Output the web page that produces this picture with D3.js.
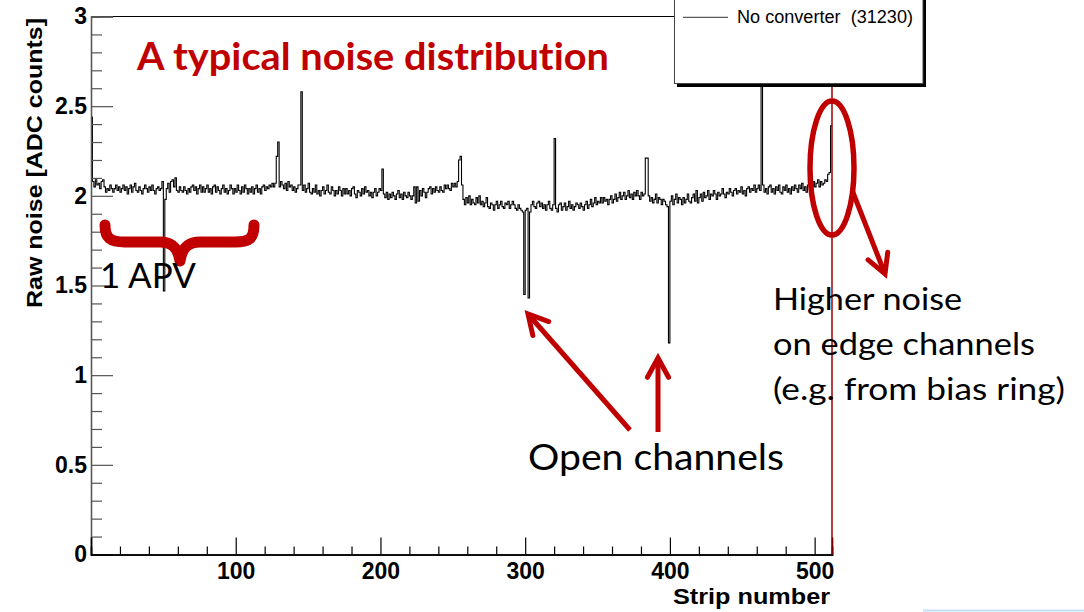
<!DOCTYPE html>
<html><head><meta charset="utf-8">
<script src="https://cdn.jsdelivr.net/npm/d3@7"></script>
<style>body{margin:0;background:#fff}svg{display:block}text{font-variant-ligatures:none;font-feature-settings:"liga" 0}</style>
</head><body>
<svg id="c" width="1084" height="612"></svg>
<script>
// ---- data ----
const noise = [
2.44,2.08,2.05,2.09,2.06,2.07,2.04,2.08,2.09,2.05,2.02,2.04,2.03,2.06,2.04,2.02,
2.04,2.06,2.03,2.05,2.02,2.04,2.06,2.03,2.05,2.01,2.04,2.06,2.02,2.05,2.07,2.03,
2.02,2.05,2.03,2.01,2.04,2.06,2.04,2.02,2.05,2.03,2.06,2.03,2.01,2.04,2.05,2.03,
2.04,2.08,1.47,1.98,2.04,2.07,2.02,2.08,2.09,2.05,2.10,2.03,2.02,2.05,2.03,2.02,
2.05,2.03,2.01,2.04,2.02,2.05,2.06,2.03,2.05,2.01,2.04,2.06,2.02,2.05,2.02,2.04,
2.06,2.02,2.04,2.01,2.05,2.06,2.02,2.05,2.03,2.01,2.04,2.06,2.02,2.04,2.01,2.03,
2.06,2.04,2.01,2.04,2.02,2.06,2.03,2.01,2.05,2.02,2.06,2.04,2.01,2.04,2.02,2.05,
2.01,2.04,2.06,2.02,2.04,2.01,2.05,2.06,2.03,2.05,2.04,2.06,2.05,2.07,2.05,2.07,
2.22,2.30,2.05,2.08,2.06,2.04,2.07,2.03,2.08,2.05,2.06,2.03,2.05,2.02,2.04,2.06,
2.06,2.58,2.03,2.06,2.02,2.04,2.07,2.02,2.01,2.04,2.02,2.06,2.01,2.03,2.00,2.03,
2.05,2.01,2.03,2.06,2.02,2.01,2.05,2.03,2.00,2.03,2.01,2.05,2.03,2.00,2.04,2.01,
2.04,2.01,2.03,2.00,2.04,2.05,2.01,1.99,2.03,2.02,2.00,2.04,2.01,2.05,2.02,2.03,
2.00,2.02,1.99,2.02,2.04,2.00,2.02,2.04,2.03,2.15,2.01,1.99,2.02,1.98,2.01,1.99,
2.02,2.00,1.98,2.01,2.03,1.99,2.01,1.98,2.02,2.00,1.99,2.02,2.00,1.98,2.00,2.05,
1.96,2.05,1.97,2.03,2.00,2.04,2.02,1.99,2.02,2.04,2.05,2.01,2.04,2.02,2.05,2.03,
2.02,2.05,2.03,2.02,2.06,2.04,2.06,2.04,2.03,2.07,2.05,2.07,2.05,2.08,2.20,2.22,
2.06,1.98,1.95,1.99,1.96,2.00,1.95,1.98,1.96,1.95,1.99,1.96,2.00,1.95,1.97,1.94,
1.96,1.99,1.94,1.93,1.96,1.95,1.92,1.95,1.97,1.93,1.95,1.97,1.94,1.93,1.96,1.95,
1.97,1.93,1.95,1.97,1.95,1.93,1.92,1.95,1.93,1.92,1.91,1.45,1.92,1.93,1.43,1.91,
1.95,1.97,1.94,1.93,1.96,1.97,1.94,1.96,1.93,1.95,1.92,1.95,1.97,1.93,1.92,1.95,
2.32,1.93,1.91,1.95,1.96,1.92,1.94,1.96,1.92,1.94,1.97,1.93,1.95,1.92,1.94,1.96,
1.95,1.93,1.96,1.94,1.92,1.95,1.97,1.93,1.95,1.98,1.94,1.96,1.99,1.95,1.97,1.96,
1.99,1.96,1.99,1.97,1.98,1.95,1.98,2.00,1.96,1.98,2.01,1.97,1.99,2.02,1.98,2.00,
2.02,1.98,2.00,2.03,1.99,2.01,1.98,2.02,2.00,2.03,2.00,1.98,2.02,2.00,2.01,2.21,
2.21,2.00,1.97,1.99,1.96,1.98,2.01,1.96,1.99,1.98,1.95,1.98,1.97,1.95,1.94,1.18,
1.97,2.00,1.95,1.98,2.01,1.96,1.99,1.98,1.95,1.99,1.96,1.98,2.01,1.97,1.96,1.99,
2.01,1.97,2.03,1.96,1.99,2.01,1.97,2.02,1.99,2.00,2.03,1.98,2.01,2.00,2.03,2.01,
1.98,2.02,2.00,2.01,2.04,2.01,1.99,2.02,2.01,2.04,2.02,2.00,2.03,2.04,2.01,2.03,
2.02,2.05,2.01,2.03,2.00,2.04,2.05,2.02,2.04,2.03,2.06,2.02,2.04,2.06,2.03,3.30,
2.06,2.02,2.04,2.01,2.05,2.06,2.02,2.04,2.01,2.05,2.03,2.06,2.02,2.01,2.05,2.03,
2.06,2.02,2.04,2.01,2.05,2.03,2.06,2.04,2.02,2.06,2.04,2.07,2.03,2.05,2.02,2.06,
2.07,2.04,2.05,2.08,2.05,2.07,2.09,2.05,2.08,2.06,2.07,2.09,2.08,2.12,2.13,2.39
];
const xDomain = [0, 512];
const yDomain = [0, 3];
const xMajorTicks = [100, 200, 300, 400, 500];
const xMinorStep = 20;
const yMajorTicks = [0, 0.5, 1, 1.5, 2, 2.5, 3];
const yTickLabels = ["0", "0.5", "1", "1.5", "2", "2.5", "3"];
const yMinorStep = 0.1;
const xTitle = "Strip number";
const yTitle = "Raw noise [ADC counts]";
const legendLabel = "No converter  (31230)";
const chartTitle = "A typical noise distribution";
const apvLabel = "1 APV";
const openLabel = "Open channels";
const edgeLabel = ["Higher noise", "on edge channels", "(e.g. from bias ring)"];

// ---- drawing ----
const RED = "#c00000";
const svg = d3.select("#c");
const x = d3.scaleLinear().domain(xDomain).range([91, 832]);
const y = d3.scaleLinear().domain(yDomain).range([554.5, 16.5]);

svg.append("defs").append("clipPath").attr("id", "frame")
  .append("rect").attr("x", 91).attr("y", 16.5).attr("width", 741).attr("height", 538);

// frame top
svg.append("line").attr("x1", 91).attr("x2", 832).attr("y1", 16.5).attr("y2", 16.5)
  .attr("stroke", "#000").attr("stroke-width", 1.2);

// histogram step path
let pts = [];
noise.forEach((v, i) => {
  pts.push([x(i), y(v)]);
  pts.push([x(i + 1), y(v)]);
});
svg.append("path")
  .attr("d", d3.line()(pts))
  .attr("clip-path", "url(#frame)")
  .attr("fill", "none").attr("stroke", "#000").attr("stroke-width", 1.1);

// axes
const yMinor = d3.range(0, 3.0001, yMinorStep).filter(v => !yMajorTicks.some(m => Math.abs(m - v) < 1e-6));
const xMinor = d3.range(xMinorStep, 512, xMinorStep).filter(v => !xMajorTicks.includes(v));
const axFont = "'Liberation Sans', Arial, sans-serif";

const gyMinor = svg.append("g").attr("transform", "translate(91,0)")
  .call(d3.axisLeft(y).tickValues(yMinor).tickSize(-11).tickFormat(""));
const gy = svg.append("g").attr("transform", "translate(91,0)")
  .call(d3.axisLeft(y).tickValues(yMajorTicks).tickSize(-22).tickPadding(4)
    .tickFormat((d, i) => yTickLabels[i]));
[gyMinor, gy].forEach(g => {
  g.select(".domain").attr("stroke", "#555").attr("stroke-width", 1.3);
  g.selectAll(".tick line").attr("stroke", "#555").attr("stroke-width", 1.2);
});
gy.selectAll("text").attr("font-family", axFont)
  .attr("font-weight", "bold").attr("font-size", 23).attr("fill", "#000");

const gxMinor = svg.append("g").attr("transform", "translate(0,554.5)")
  .call(d3.axisBottom(x).tickValues(xMinor).tickSize(-8).tickFormat(""));
const gx = svg.append("g").attr("transform", "translate(0,554.5)")
  .call(d3.axisBottom(x).tickValues(xMajorTicks).tickSize(-17).tickPadding(8));
[gxMinor, gx].forEach(g => {
  g.select(".domain").attr("stroke", "#000").attr("stroke-width", 1.6);
  g.selectAll(".tick line").attr("stroke", "#000").attr("stroke-width", 1.2);
});
gx.selectAll("text").attr("font-family", axFont)
  .attr("font-weight", "bold").attr("font-size", 23).attr("fill", "#000");

// axis titles
svg.append("text").text(xTitle)
  .attr("x", 830).attr("y", 604).attr("text-anchor", "end")
  .attr("font-family", axFont).attr("font-weight", "bold")
  .attr("font-size", 22).attr("textLength", 157).attr("lengthAdjust", "spacingAndGlyphs");
svg.append("text").text(yTitle)
  .attr("transform", "translate(42,18) rotate(-90)").attr("text-anchor", "end")
  .attr("font-family", axFont).attr("font-weight", "bold")
  .attr("font-size", 22).attr("textLength", 290).attr("lengthAdjust", "spacingAndGlyphs");

// legend box (drawn over the histogram)
svg.append("rect").attr("x", 677).attr("y", -10).attr("width", 249).attr("height", 97).attr("fill", "#000");
svg.append("rect").attr("x", 674.5).attr("y", -12).attr("width", 248.5).attr("height", 95.5)
  .attr("fill", "#fff").attr("stroke", "#444").attr("stroke-width", 1);
svg.append("line").attr("x1", 683).attr("x2", 728).attr("y1", 17.3).attr("y2", 17.3)
  .attr("stroke", "#333").attr("stroke-width", 1);
svg.append("text").text(legendLabel).attr("x", 737).attr("y", 23)
  .attr("font-family", axFont).attr("font-size", 18)
  .attr("textLength", 176).attr("lengthAdjust", "spacingAndGlyphs")
  .style("white-space", "pre");

// red edge line
svg.append("line").attr("x1", x(512)).attr("x2", x(512)).attr("y1", 87).attr("y2", 554.5)
  .attr("stroke", "#a00000").attr("stroke-width", 1.5);

// title
svg.append("text").text(chartTitle).attr("x", 137).attr("y", 70)
  .attr("font-family", "Lato, 'Open Sans', sans-serif").attr("font-weight", "bold")
  .attr("font-size", 38).attr("fill", RED)
  .attr("textLength", 472).attr("lengthAdjust", "spacingAndGlyphs");

// brace
svg.append("path")
  .attr("d", "M105,225 C105,238 110,242 125,242 L160,242 C172,242 178,248 180,261 C182,248 188,242 200,242 L235,242 C250,242 254,238 254,225")
  .attr("fill", "none").attr("stroke", RED).attr("stroke-width", 11)
  .attr("stroke-linecap", "round").attr("stroke-linejoin", "round");

// annotation texts
const annFont = "Lato, 'Open Sans', sans-serif";
svg.append("text").text(apvLabel).attr("x", 100).attr("y", 288)
  .attr("font-family", annFont).attr("font-size", 34).attr("fill", "#000")
  .attr("textLength", 96).attr("lengthAdjust", "spacingAndGlyphs");
svg.append("text").text(openLabel).attr("x", 528).attr("y", 470)
  .attr("font-family", annFont).attr("font-size", 36).attr("fill", "#000")
  .attr("textLength", 256).attr("lengthAdjust", "spacingAndGlyphs");
const edgeW = [189, 262, 292];
edgeLabel.forEach((t, i) => {
  svg.append("text").text(t).attr("x", 773).attr("y", 310 + i * 45)
    .attr("font-family", annFont).attr("font-size", 31).attr("fill", "#000")
    .attr("textLength", edgeW[i]).attr("lengthAdjust", "spacingAndGlyphs");
});

// ellipse
svg.append("ellipse").attr("cx", 832).attr("cy", 168).attr("rx", 22).attr("ry", 67)
  .attr("fill", "none").attr("stroke", RED).attr("stroke-width", 5.5);

// arrows
function arrow(x1, y1, x2, y2) {
  const a = Math.atan2(y2 - y1, x2 - x1), L = 22, w = 0.5;
  svg.append("line").attr("x1", x1).attr("y1", y1).attr("x2", x2).attr("y2", y2)
    .attr("stroke", RED).attr("stroke-width", 5);
  const p1 = [x2 - L * Math.cos(a - w), y2 - L * Math.sin(a - w)];
  const p2 = [x2 - L * Math.cos(a + w), y2 - L * Math.sin(a + w)];
  svg.append("path").attr("d", `M${p1}L${x2},${y2}L${p2}`)
    .attr("fill", "none").attr("stroke", RED).attr("stroke-width", 5)
    .attr("stroke-linecap", "round").attr("stroke-linejoin", "miter");
}
arrow(630, 430, 528, 314);
arrow(658, 432, 658, 358);
arrow(852, 190, 885, 274);

// blue strip bottom right
svg.append("line").attr("x1", 923).attr("x2", 1084).attr("y1", 610.5).attr("y2", 610.5)
  .attr("stroke", "#bfe0fb").attr("stroke-width", 2);
</script>
</body></html>
